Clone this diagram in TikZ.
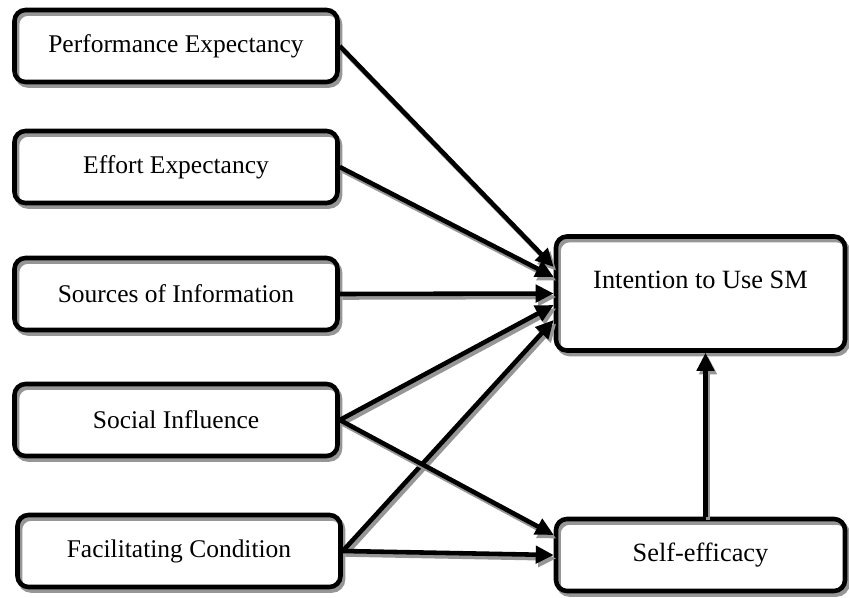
\documentclass[tikz,border=0pt]{standalone}
\usepackage{fontspec}
\setmainfont{Liberation Serif}
\usepackage{xcolor}
\usetikzlibrary{arrows.meta}
\definecolor{shadowgray}{RGB}{150,150,150}

\tikzset{
  shade line/.style={preaction={draw=shadowgray, line width=2.6pt, transform canvas={xshift=0.05cm, yshift=-0.07cm}}},
  factor/.style={draw, line width=2.6pt, rounded corners=0.22cm, inner sep=0pt,
    minimum width=6.46cm, minimum height=1.44cm, font=\fontsize{14.5}{17}\selectfont, shade line},
  outcome/.style={factor, minimum width=5.78cm, font=\fontsize{15}{18}\selectfont},
  link/.style={-{Triangle[length=0.36cm,width=0.34cm]}, line width=2.6pt, shade line},
}

\begin{document}
\begin{tikzpicture}
  \useasboundingbox (0,0) rectangle (16.98,11.94);
  % determinants
  \node[factor] (pe) at (3.52,11.02) {Performance Expectancy};
  \node[factor] (ee) at (3.52,8.6) {Effort Expectancy};
  \node[factor] (soi) at (3.52,6.06) {Sources of Information};
  \node[factor] (si) at (3.52,3.54) {Social Influence};
  \node[factor] (fc) at (3.58,0.92) {Facilitating Condition};
  % outcomes
  \node[outcome, minimum height=2.28cm, text depth=0.55cm] (int) at (14.01,6.07) {Intention to Use SM};
  \node[outcome] (self) at (14.01,0.84) {Self-efficacy};

  \draw[link] (pe.east) -- ([yshift=0.53cm]int.west);
  \draw[link] (ee.east) -- ([yshift=0.33cm]int.west);
  \draw[link] (soi.east) -- (int.west);
  \draw[link] (si.east) -- ([yshift=-0.23cm]int.west);
  \draw[link] (fc.east) -- ([yshift=-0.53cm]int.west);
  \draw[link] (si.east) -- ([yshift=0.4cm]self.west);
  \draw[link] (fc.east) -- (self.west);
  \draw[link] ([xshift=0.1cm]self.north) -- ([xshift=0.1cm]self.north |- int.south);
\end{tikzpicture}
\end{document}
